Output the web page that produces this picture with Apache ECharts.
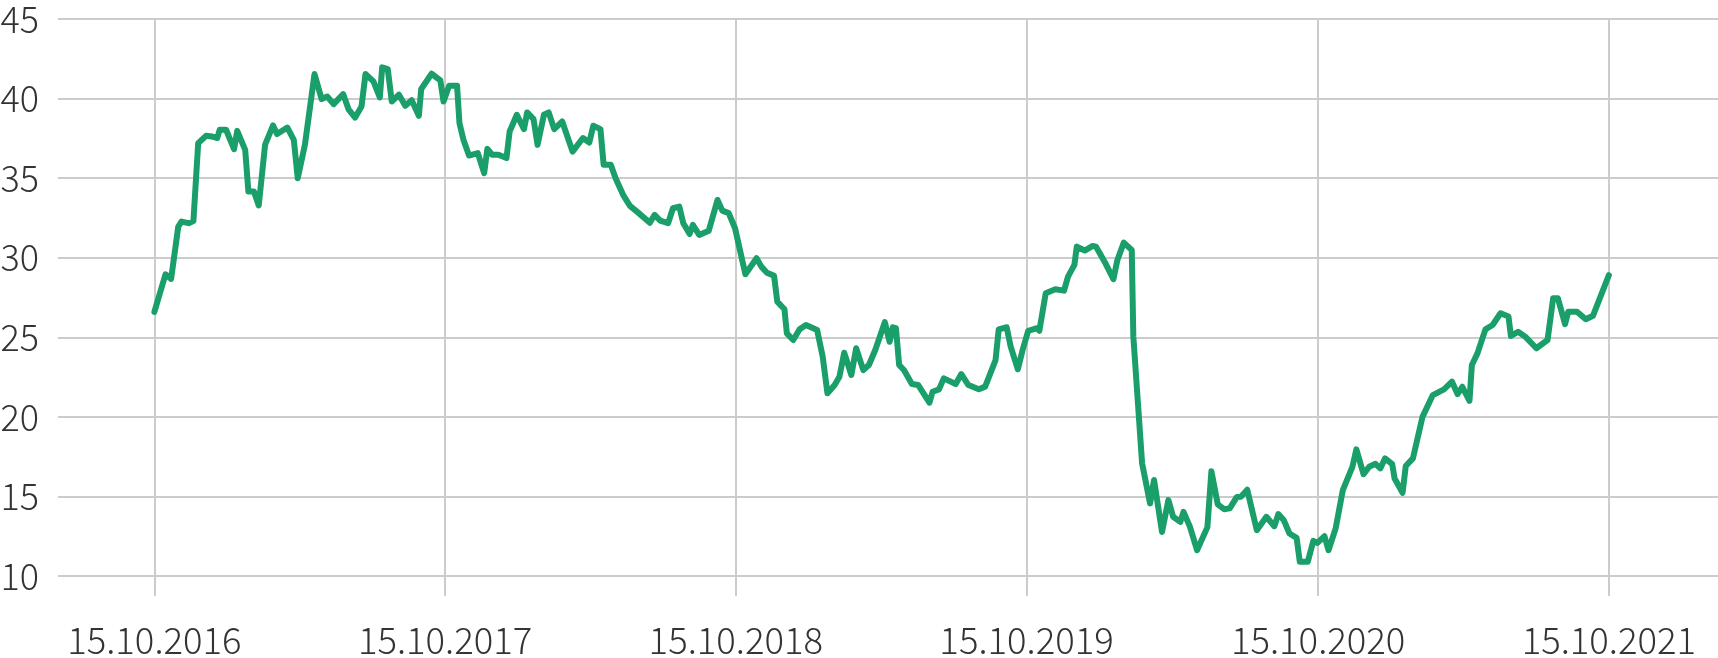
<!DOCTYPE html>
<html>
<head>
<meta charset="utf-8">
<script src="https://cdn.jsdelivr.net/npm/echarts@6/dist/echarts.min.js"></script>
<style>
html,body{margin:0;padding:0;background:#fff;}
#chart{width:1718px;height:658px;}
</style>
</head>
<body>
<div id="chart"></div>
<script>
// Days after 15.10.2016 for each observed turning point of the line
const days = [0,14,21,30,34,43,49,55,65,72,79,82,90,100,104,114,118,125,131,139,149,154,167,175,180,189,201,210,217,225,237,244,252,260,265,275,283,286,293,298,307,
315,323,332,335,348,359,363,370,380,383,388,395,406,414,418,424,432,442,446,455,464,468,476,481,489,495,502,512,525,538,546,551,560,564,573,579,589,597,607,
622,628,635,645,651,659,664,672,676,684,696,707,713,721,729,736,742,756,762,769,778,782,791,794,802,810,818,832,839,845,854,860,866,875,881,890,897,905,
917,923,927,931,935,941,951,959,973,977,985,991,1006,1013,1022,1035,1043,1056,1060,1070,1075,1084,1090,1097,1108,1111,1119,1131,1142,1147,1155,1158,1168,1178,1182,1194,1204,1209,1217,1227,
1229,1240,1250,1255,1265,1273,1279,1288,1292,1300,1309,1322,1327,1335,1343,1350,1359,1364,1372,1384,1396,1406,1411,1418,1425,1434,1438,1448,1455,1460,1469,1474,1483,
1492,1504,1509,1518,1525,1533,1539,1545,1554,1557,1567,1571,1580,1592,1605,1619,1629,1636,1642,1651,1654,1661,1671,1680,1690,1700,1703,1712,1721,1735,1749,1756,1762,1771,1775,1786,1797,1806,1826];
const values = [26.6,28.96,28.67,31.96,32.27,32.17,32.3,37.2,37.66,37.62,37.52,38.04,38.04,36.82,37.97,36.78,34.16,34.16,33.28,37.1,38.31,37.77,38.18,37.41,35.0,37.1,41.54,39.97,40.13,39.65,40.28,39.3,38.81,39.5,41.54,41.08,40.07,41.96,41.85,39.82,40.24,
39.55,39.9,38.92,40.6,41.56,41.14,39.82,40.8,40.8,38.46,37.41,36.42,36.57,35.31,36.84,36.47,36.47,36.26,37.93,38.98,38.08,39.13,38.71,37.09,38.98,39.13,38.08,38.56,36.67,37.52,37.24,38.29,38.08,35.84,35.84,35.0,33.9,33.26,32.85,
32.2,32.69,32.33,32.17,33.11,33.21,32.17,31.5,32.06,31.43,31.7,33.63,32.96,32.8,31.85,30.28,28.96,29.97,29.44,29.06,28.86,27.24,26.76,25.25,24.83,25.5,25.77,25.46,23.78,21.48,22.0,22.52,24.03,22.63,24.31,22.94,23.26,24.2,
25.95,24.72,25.63,25.57,23.26,22.94,22.06,22.0,20.89,21.58,21.73,22.42,22.06,22.69,22.0,21.73,21.9,23.57,25.5,25.63,24.41,22.99,24.2,25.41,25.57,25.41,27.77,28.02,27.93,28.81,29.55,30.7,30.45,30.74,30.7,29.65,28.65,29.86,30.95,30.49,
25.04,17.08,14.56,16.03,12.77,14.77,13.72,13.4,14.03,13.1,11.62,13.07,16.58,14.5,14.2,14.25,14.97,14.98,15.42,12.88,13.72,13.13,13.89,13.5,12.67,12.4,10.89,10.89,12.21,12.08,12.5,11.62,12.99,
15.4,16.86,17.96,16.4,16.86,17.05,16.76,17.39,17.03,16.13,15.23,16.91,17.39,20.0,21.37,21.73,22.21,21.43,21.89,21.01,23.26,23.99,25.5,25.77,26.51,26.3,25.08,25.35,25.04,24.31,24.83,27.45,27.45,25.83,26.61,26.61,26.13,26.35,28.9];
const tickLabels = ['15.10.2016','15.10.2017','15.10.2018','15.10.2019','15.10.2020','15.10.2021'];
const yTicks = [10,15,20,25,30,35,40,45];

// Daily category axis from 16.06.2016 to 01.03.2022
const startUTC = Date.UTC(2016, 9, 15);
const daysBefore = 121, daysAfter = 1963;
function fmt(ms){
  const d = new Date(ms);
  const dd = String(d.getUTCDate()).padStart(2,'0');
  const mm = String(d.getUTCMonth()+1).padStart(2,'0');
  return dd + '.' + mm + '.' + d.getUTCFullYear();
}
const categories = [];
for (let i = -daysBefore; i <= daysAfter; i++) categories.push(fmt(startUTC + i*86400000));
const seriesData = days.map((d, k) => [fmt(startUTC + d*86400000), values[k]]);
const isTick = (idx, val) => tickLabels.indexOf(val) >= 0;

const FONT = '"Noto Sans CJK SC", "Noto Sans", sans-serif';
const chart = echarts.init(document.getElementById('chart'), null, {renderer: 'canvas'});
chart.setOption({
  animation: false,
  backgroundColor: '#ffffff',
  grid: {left: 58, right: 0, top: 19, bottom: 82, outerBoundsMode: 'none', containLabel: false},
  xAxis: {
    type: 'category',
    data: categories,
    boundaryGap: false,
    axisLine: {show: false},
    axisTick: {show: true, interval: isTick, length: 20, lineStyle: {color: '#cccccc', width: 2}},
    splitLine: {show: true, interval: isTick, lineStyle: {color: '#cccccc', width: 2}},
    axisLabel: {show: true, interval: isTick, margin: 46, fontSize: 36.5, color: '#333333', fontFamily: FONT, fontWeight: 300}
  },
  yAxis: {
    type: 'value',
    min: yTicks[0],
    max: yTicks[yTicks.length-1],
    interval: 5,
    axisLine: {show: false},
    axisTick: {show: false},
    splitLine: {show: true, lineStyle: {color: '#cccccc', width: 2}},
    axisLabel: {margin: 19, fontSize: 36, color: '#333333', fontFamily: FONT, fontWeight: 300}
  },
  series: [{
    type: 'line',
    data: seriesData,
    showSymbol: false,
    symbol: 'none',
    connectNulls: true,
    lineStyle: {color: '#1a9e6a', width: 6, join: 'round', cap: 'round'},
    z: 5
  }]
});
</script>
</body>
</html>
